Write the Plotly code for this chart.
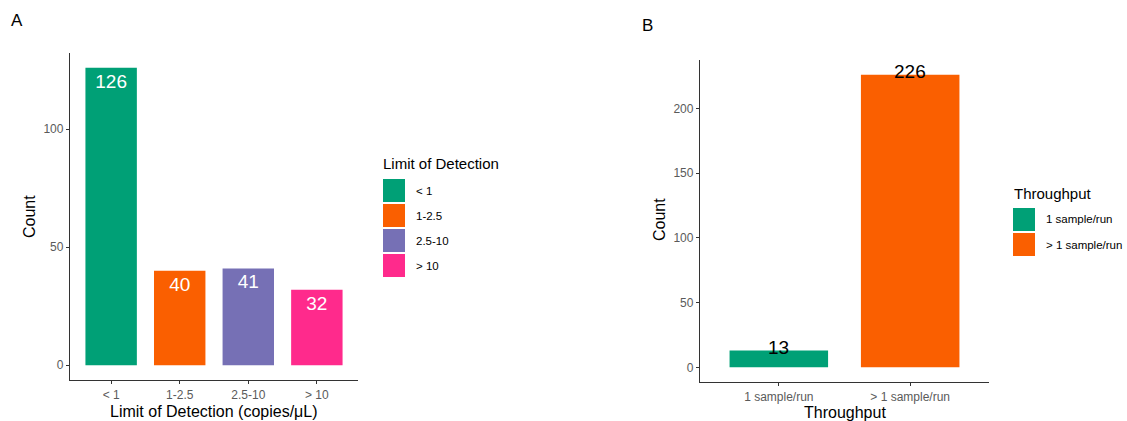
import plotly.graph_objects as go

# ---- data ----
lod_categories = ["< 1", "1-2.5", "2.5-10", "> 10"]
lod_counts = [126, 40, 41, 32]
lod_colors = ["#00A076", "#FA5F00", "#7670B5", "#FF2A8C"]

tp_categories = ["1 sample/run", "> 1 sample/run"]
tp_counts = [13, 226]
tp_colors = ["#00A076", "#FA5F00"]

FONT = "Liberation Sans, Arial, sans-serif"
W, H = 1127, 421

def px(x):
    return x / W

def py(y):
    return 1 - y / H

fig = go.Figure()

# Panel A bars
fig.add_trace(go.Bar(
    x=lod_categories, y=lod_counts, marker=dict(color=lod_colors, line=dict(width=0)),
    width=0.75, text=[str(v) for v in lod_counts], textposition="inside",
    insidetextanchor="end", textangle=0,
    textfont=dict(color="white", size=19, family=FONT),
    xaxis="x", yaxis="y", showlegend=False, hoverinfo="x+y",
))

# Panel B bars
fig.add_trace(go.Bar(
    x=tp_categories, y=tp_counts, marker=dict(color=tp_colors, line=dict(width=0)),
    width=0.75, xaxis="x2", yaxis="y2", showlegend=False, hoverinfo="x+y",
))

axis_common = dict(
    showline=True, linecolor="#333333", linewidth=1.3, ticks="outside",
    ticklen=3, tickcolor="#333333", tickwidth=1, showgrid=False, zeroline=False,
    tickfont=dict(size=12, color="#5A5A5A", family=FONT),
)

lodmax = max(lod_counts)
tpmax = max(tp_counts)

fig.update_layout(
    width=W, height=H,
    margin=dict(l=0, r=0, t=0, b=0),
    plot_bgcolor="white", paper_bgcolor="white",
    font=dict(family=FONT),
    xaxis=dict(domain=[px(70), px(358)], anchor="y", range=[-0.6, 3.6], **axis_common),
    yaxis=dict(domain=[py(380), py(53)], anchor="x", range=[-0.05 * lodmax, 1.05 * lodmax],
               tickvals=[0, 50, 100], **axis_common),
    xaxis2=dict(domain=[px(700), px(989)], anchor="y2", range=[-0.6, 1.6], **axis_common),
    yaxis2=dict(domain=[py(382), py(60)], anchor="x2", range=[-0.05 * tpmax, 1.05 * tpmax],
                tickvals=[0, 50, 100, 150, 200], **axis_common),
)

def txt(x, y, text, size, color="black", xanchor="center", angle=0):
    return dict(x=px(x), y=py(y), xref="paper", yref="paper", text=text,
                showarrow=False, xanchor=xanchor, yanchor="middle", textangle=angle,
                font=dict(size=size, color=color, family=FONT))

annotations = []
# value labels for panel B (centered on bar tops)
for c, v in zip(tp_categories, tp_counts):
    annotations.append(dict(x=c, y=v, xref="x2", yref="y2", text=str(v), showarrow=False,
                            xanchor="center", yanchor="middle", yshift=3,
                            font=dict(size=19, color="black", family=FONT)))

# panel letters
annotations.append(txt(17, 20, "A", 17))
annotations.append(txt(647, 26, "B", 17))

# axis titles
annotations.append(txt(214, 411, "Limit of Detection (copies/μL)", 16))
annotations.append(txt(29, 217, "Count", 16, angle=-90))
annotations.append(txt(845, 412, "Throughput", 16))
annotations.append(txt(660, 220, "Count", 16, angle=-90))

shapes = []
# legend A
annotations.append(txt(381, 164, "Limit of Detection", 15, xanchor="left"))
for i, (lab, col) in enumerate(zip(lod_categories, lod_colors)):
    top = 179 + i * 25
    shapes.append(dict(type="rect", xref="paper", yref="paper", x0=px(383), x1=px(405),
                       y0=py(top + 23), y1=py(top), fillcolor=col, line=dict(width=0)))
    annotations.append(txt(414, top + 11.5, lab, 11.5, xanchor="left"))

# legend B
annotations.append(txt(1012, 193, "Throughput", 15, xanchor="left"))
for i, (lab, col) in enumerate(zip(tp_categories, tp_colors)):
    top = 208 + i * 25
    shapes.append(dict(type="rect", xref="paper", yref="paper", x0=px(1013), x1=px(1035),
                       y0=py(top + 23), y1=py(top), fillcolor=col, line=dict(width=0)))
    annotations.append(txt(1044, top + 11.5, lab, 11.5, xanchor="left"))

fig.update_layout(annotations=annotations, shapes=shapes)

fig.write_html("out.html")
